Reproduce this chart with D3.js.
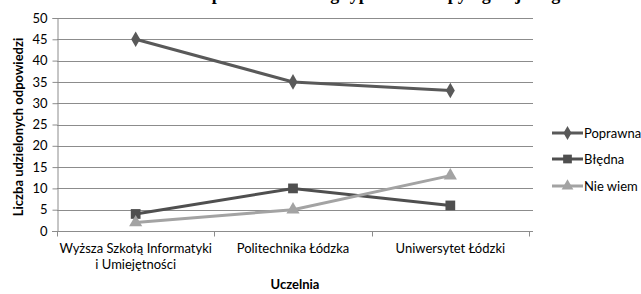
<!DOCTYPE html>
<html>
<head>
<meta charset="utf-8">
<script src="https://cdn.jsdelivr.net/npm/d3@7"></script>
<style>
  body { margin: 0; background: #fff; }
  svg { display: block; }
  text { font-family: Lato, "Open Sans", sans-serif; fill: #000; }
</style>
</head>
<body>
<svg width="641" height="294"></svg>
<script>
// data
var uczelnie = [["Wyższa Szkołą Informatyki", "i Umiejętności"], ["Politechnika Łódzka"], ["Uniwersytet Łódzki"]];
var seriesNames = ["Poprawna", "Błędna", "Nie wiem"];
var poprawna = [45, 35, 33];
var bledna = [4, 10, 6];
var nieWiem = [2, 5, 13];
var yTicks = [0, 5, 10, 15, 20, 25, 30, 35, 40, 45, 50];

var series = [
  { name: seriesNames[0], values: poprawna, color: "#595959", symbol: d3.symbolDiamond, size: 70 },
  { name: seriesNames[1], values: bledna, color: "#4f4f4f", symbol: d3.symbolSquare, size: 95 },
  { name: seriesNames[2], values: nieWiem, color: "#a3a3a3", symbol: d3.symbolTriangle, size: 75 }
];

var svg = d3.select("svg");
var margin = { left: 57, right: 529, top: 18, bottom: 231 };

var x = d3.scaleBand()
  .domain(d3.range(uczelnie.length))
  .range([margin.left, margin.right]);

var y = d3.scaleLinear()
  .domain([0, 50])
  .range([margin.bottom, margin.top]);

// title (cut off at the top in the original)
svg.append("text")
  .attr("x", 430)
  .attr("y", 0)
  .attr("text-anchor", "middle")
  .style("font-family", "'Liberation Serif', serif")
  .style("font-weight", "bold")
  .style("font-size", "18px")
  .text("Odpowiedzi według typu zadania pytagorejskiego w uczelniach");

// gridlines
svg.append("g")
  .selectAll("line")
  .data(yTicks.filter(d => d > 0))
  .enter().append("line")
  .attr("x1", margin.left)
  .attr("x2", 533)
  .attr("y1", d => Math.round(y(d)) + 0.5)
  .attr("y2", d => Math.round(y(d)) + 0.5)
  .attr("stroke", "#8c8c8c")
  .attr("stroke-width", 1);

// y axis
var yAxis = svg.append("g")
  .attr("transform", `translate(${margin.left + 0.5},0)`)
  .call(d3.axisLeft(y).tickValues(yTicks).tickSize(5).tickPadding(5));
yAxis.select(".domain").attr("stroke", "#8c8c8c");
yAxis.selectAll(".tick line").attr("stroke", "#8c8c8c");
yAxis.selectAll(".tick text")
  .style("font-size", "13px")
  .style("font-family", "Lato, sans-serif")
  .attr("fill", "#222");

// x axis
var xAxis = svg.append("g")
  .attr("transform", `translate(0,${Math.round(margin.bottom) + 0.5})`);
xAxis.append("line")
  .attr("x1", margin.left - 5)
  .attr("x2", 533)
  .attr("stroke", "#8c8c8c");
xAxis.selectAll(".tk")
  .data(d3.range(uczelnie.length + 1))
  .enter().append("line")
  .attr("class", "tk")
  .attr("x1", d => Math.round(margin.left + d * x.bandwidth()) + 0.5)
  .attr("x2", d => Math.round(margin.left + d * x.bandwidth()) + 0.5)
  .attr("y1", 0)
  .attr("y2", 5)
  .attr("stroke", "#8c8c8c");

var xLab = svg.append("g")
  .selectAll("text")
  .data(uczelnie)
  .enter().append("text")
  .attr("x", (d, i) => x(i) + x.bandwidth() / 2)
  .attr("y", 253)
  .attr("text-anchor", "middle")
  .style("font-size", "13px")
  .attr("fill", "#222");
xLab.each(function(lines, i) {
  var t = d3.select(this);
  lines.forEach((l, j) => {
    t.append("tspan")
      .attr("x", x(i) + x.bandwidth() / 2)
      .attr("dy", j === 0 ? 0 : 16)
      .text(l);
  });
});

// axis titles
svg.append("text")
  .attr("x", 295)
  .attr("y", 289)
  .attr("text-anchor", "middle")
  .style("font-size", "13px")
  .style("font-weight", "bold")
  .text("Uczelnia");

svg.append("text")
  .attr("transform", "translate(18,127) rotate(-90)")
  .attr("text-anchor", "middle")
  .attr("dy", "0.35em")
  .style("font-size", "13px")
  .style("font-weight", "bold")
  .text("Liczba udzielonych odpowiedzi");

// lines
var line = d3.line()
  .x((d, i) => x(i) + x.bandwidth() / 2)
  .y(d => y(d));

var seriesG = svg.selectAll(".series")
  .data(series)
  .enter().append("g")
  .attr("class", "series");

seriesG.append("path")
  .attr("d", d => line(d.values))
  .attr("fill", "none")
  .attr("stroke", d => d.color)
  .attr("stroke-width", 3);

seriesG.each(function(s) {
  d3.select(this).selectAll(".pt")
    .data(s.values)
    .enter().append("path")
    .attr("class", "pt")
    .attr("d", d3.symbol().type(s.symbol).size(s.size))
    .attr("transform", (d, i) => `translate(${x(i) + x.bandwidth() / 2},${y(d)})`)
    .attr("fill", s.color);
});

// legend
var legendY = [133, 159, 186];
var legend = svg.selectAll(".legend")
  .data(series)
  .enter().append("g")
  .attr("class", "legend")
  .attr("transform", (d, i) => `translate(552,${legendY[i]})`);

legend.append("line")
  .attr("x1", 0)
  .attr("x2", 31)
  .attr("stroke", d => d.color)
  .attr("stroke-width", 3);

legend.append("path")
  .attr("d", d => d3.symbol().type(d.symbol).size(d.size * 0.8)())
  .attr("transform", "translate(15.5,0)")
  .attr("fill", d => d.color);

legend.append("text")
  .attr("x", 32)
  .attr("dy", "0.35em")
  .style("font-size", "13px")
  .attr("fill", "#222")
  .text(d => d.name);
</script>
</body>
</html>
